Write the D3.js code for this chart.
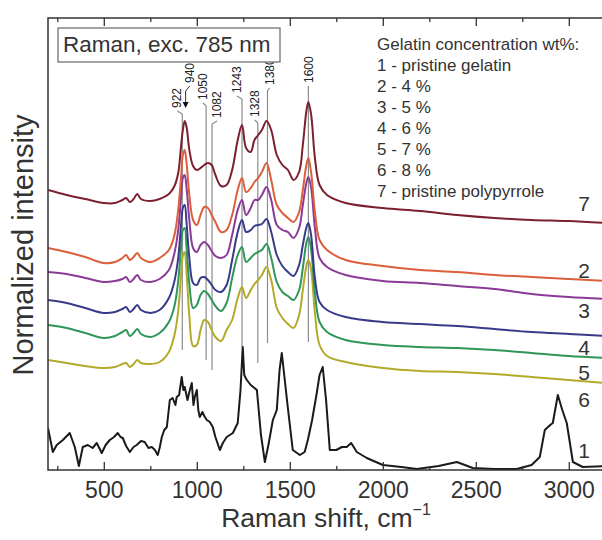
<!DOCTYPE html>
<html>
<head>
<meta charset="utf-8">
<script src="https://d3js.org/d3.v7.min.js"></script>
<style>
body{margin:0;background:#fff;}
svg{display:block;font-family:"Liberation Sans",Arial,sans-serif;}
</style>
</head>
<body>
<div id="chart"></div>
<script>
// Raman shift (cm-1) shared by the polypyrrole curves 2-7
var shiftPPy = [200,300,400,500,560,600,620,640,660,680,700,750,800,850,880,900,915,925,935,945,960,980,1000,1020,1040,1060,1080,1100,1130,1160,1190,1220,1243,1265,1290,1310,1330,1350,1375,1400,1430,1460,1490,1520,1550,1570,1590,1600,1615,1635,1660,1700,1800,2000,2200,2400,2600,2800,3000,3200];
// 7 - pristine polypyrrole
var int7 = [280,275,271,267,267,270,272,268,271,276,271,269,271,276,284,297,323,340,349,343,320,304,300,302,305,307,305,295,284,285,300,330,345,322,318,330,335,340,349,340,315,305,300,290,298,325,360,368,355,312,285,275,267,262,259,255,252,250,249,247];
// 2 - 4 %
var int2 = [222,218,213,207,208,212,215,210,213,217,212,208,212,220,235,260,292,315,320,307,275,250,245,255,263,262,255,248,238,240,255,280,292,278,282,288,292,298,307,290,265,257,252,248,258,280,306,312,297,258,230,220,210,204,200,198,195,193,191,189];
// 3 - 5 %
var int3 = [198,196,192,188,189,191,193,188,191,195,190,188,191,200,217,240,272,292,295,282,250,222,218,225,228,225,219,214,212,215,235,260,270,255,262,270,270,275,283,270,245,240,238,232,242,265,288,293,282,242,212,203,195,189,187,184,181,176,173,171];
// 4 - 6 %
var int4 = [170,167,162,157,158,161,163,158,161,165,160,157,160,172,189,212,244,262,265,247,212,187,185,192,193,190,185,180,178,185,210,238,250,238,240,244,245,246,251,238,215,204,198,194,205,225,243,247,234,192,168,160,153,148,146,144,141,138,136,134];
// 5 - 7 %
var int5 = [145,142,137,132,134,138,140,134,137,141,136,133,137,148,164,189,222,240,242,222,186,162,165,175,179,176,170,164,159,167,192,215,223,208,212,216,218,220,226,212,188,178,174,170,180,202,228,233,220,177,148,138,130,125,123,122,120,117,114,112];
// 6 - 8 %
var int6 = [110,107,104,102,103,106,107,103,106,110,107,106,108,118,135,159,194,214,218,197,154,124,125,140,150,148,140,133,129,140,150,172,183,172,180,186,190,195,203,190,162,152,146,142,155,180,205,210,200,157,125,114,108,102,99,98,96,93,90,87];
// 1 - pristine gelatin
var shiftGel = [200,226,247,280,317,344,366,387,414,440,462,489,510,532,555,575,590,602,620,640,660,677,700,720,740,758,775,790,800,812,825,839,855,870,885,892,905,919,928,935,950,960,973,982,989,1000,1008,1016,1030,1043,1054,1070,1086,1100,1124,1140,1161,1194,1220,1235,1247,1255,1269,1290,1323,1345,1366,1385,1409,1430,1445,1457,1470,1489,1516,1554,1580,1597,1620,1645,1660,1677,1695,1715,1750,1780,1806,1830,1860,1914,2000,2100,2183,2300,2398,2484,2600,2720,2800,2844,2871,2900,2914,2941,2965,2989,3022,3075,3200];
var int1 = [42,18,25,30,37,23,4,23,25,22,27,17,25,30,33,37,33,32,24,18,23,25,29,28,22,23,20,15,22,33,40,43,70,72,65,73,75,93,80,83,70,78,87,65,73,80,60,53,58,53,50,48,43,33,20,27,33,37,47,80,123,95,90,85,80,35,8,25,50,60,100,117,95,63,20,15,18,30,50,77,95,103,70,20,20,23,23,27,18,12,5,3,1,4,8,2,1,1,5,13,40,45,47,75,60,47,8,3,4];

// marked bands and where their guide lines stop (intensity)
var peakPos = [922,940,1050,1082,1243,1328,1380,1600];
var peakEnd = [120,362,110,100,123,107,127,128];

var legendTitle = "Gelatin concentration wt%:";
var legendItems = ["1 - pristine gelatin","2 - 4 %","3 - 5 %","4 - 6 %","5 - 7 %","6 - 8 %","7 - pristine polypyrrole"];
var xMajor = [500,1000,1500,2000,2500,3000];
var xMinor = [250,750,1250,1750,2250,2750];

// layout
var W = 602, H = 540;
var pLeft = 48, pTop = 18, pRight = 606, pBottom = 470;
var labelDx = [-5,4,-3,5,-5,-3,2,0];
var labelBottom = [108,83,100,118,93,117,85,83];

var svg = d3.select("#chart").append("svg").attr("width",W).attr("height",H);
var x = d3.scaleLinear().domain([200,3200]).range([pLeft,pRight]);
var y = d3.scaleLinear().domain([0,452]).range([pBottom,pTop]);

svg.append("clipPath").attr("id","plot").append("rect")
    .attr("x",pLeft).attr("y",pTop).attr("width",pRight-pLeft).attr("height",pBottom-pTop);

// guide lines for the bands
var guides = svg.append("g").attr("clip-path","url(#plot)");
peakPos.forEach(function(p,i){
    var px = x(p), lx = px + labelDx[i], b = labelBottom[i];
    if(p === 940){
        guides.append("path").attr("d","M"+lx+","+(b+3)+"L"+px+","+(b+8)+"L"+px+","+(y(peakEnd[i])-5))
            .attr("fill","none").attr("stroke","#333").attr("stroke-width",1);
        guides.append("path").attr("d","M"+(px-3)+","+(y(peakEnd[i])-6)+"L"+(px+3)+","+(y(peakEnd[i])-6)+"L"+px+","+y(peakEnd[i])+"Z")
            .attr("fill","#111");
    } else {
        guides.append("path").attr("d","M"+lx+","+(b+3)+"L"+px+","+(b+6)+"L"+px+","+y(peakEnd[i]))
            .attr("fill","none").attr("stroke","#8c8c8c").attr("stroke-width",1.2);
    }
    svg.append("text").attr("transform","translate("+lx+","+b+") rotate(-90)")
        .attr("dy","0.35em").attr("font-size",12).attr("fill","#222").text(p);
});

// spectra
var curves = [
    {s:shiftPPy, v:int6, color:"#b3aa2c"},
    {s:shiftPPy, v:int5, color:"#2e9658"},
    {s:shiftPPy, v:int4, color:"#383a8a"},
    {s:shiftPPy, v:int3, color:"#8b3a98"},
    {s:shiftPPy, v:int2, color:"#dc5f3c"},
    {s:shiftPPy, v:int7, color:"#7c1f2e"},
    {s:shiftGel, v:int1, color:"#1a1a1a", jagged:true}
];
var smooth = d3.line().x(function(d){return x(d[0]);}).y(function(d){return y(d[1]);}).curve(d3.curveCatmullRom.alpha(0.5));
var rough = d3.line().x(function(d){return x(d[0]);}).y(function(d){return y(d[1]);});
var plot = svg.append("g").attr("clip-path","url(#plot)");
curves.forEach(function(c){
    var pts = c.s.map(function(s,i){return [s,c.v[i]];});
    plot.append("path").attr("d",(c.jagged?rough:smooth)(pts))
        .attr("fill","none").attr("stroke",c.color).attr("stroke-width",2).attr("stroke-linejoin","round");
});

// axes: ticks point inward, labels only at bottom
function styleAxis(g){
    g.select(".domain").remove();
    g.selectAll(".tick line").attr("stroke","#333").attr("stroke-width",1.3);
    g.selectAll(".tick text").attr("fill","#333").attr("font-size",23).attr("font-family","Liberation Sans, Arial, sans-serif");
}
svg.append("g").attr("transform","translate(0,"+pBottom+")")
    .call(d3.axisBottom(x).tickValues(xMajor).tickSize(-8).tickPadding(12).tickFormat(d3.format("d"))).call(styleAxis);
svg.append("g").attr("transform","translate(0,"+pBottom+")")
    .call(d3.axisBottom(x).tickValues(xMinor).tickSize(-4).tickFormat("")).call(styleAxis);
svg.append("g").attr("transform","translate(0,"+pTop+")")
    .call(d3.axisTop(x).tickValues(xMajor).tickSize(-8).tickFormat("")).call(styleAxis);
svg.append("g").attr("transform","translate(0,"+pTop+")")
    .call(d3.axisTop(x).tickValues(xMinor).tickSize(-4).tickFormat("")).call(styleAxis);

svg.append("rect").attr("x",pLeft).attr("y",pTop).attr("width",pRight-pLeft).attr("height",pBottom-pTop)
    .attr("fill","none").attr("stroke","#333").attr("stroke-width",1.5);

// title box
svg.append("rect").attr("x",58).attr("y",28).attr("width",222).attr("height",34)
    .attr("fill","#fff").attr("stroke","#666").attr("stroke-width",1.2);
svg.append("text").attr("x",63).attr("y",52).attr("font-size",22.5).attr("fill","#333").text("Raman, exc. 785 nm");

// legend text
svg.append("text").attr("x",377).attr("y",50).attr("font-size",17).attr("fill","#333").text(legendTitle);
legendItems.forEach(function(t,i){
    svg.append("text").attr("x",377).attr("y",71+i*21).attr("font-size",17).attr("fill","#333").text(t);
});

// curve numbers at right
var curveNames = ["7","2","3","4","5","6","1"];
var nameY = [211,278,318,355,380,407,458];
curveNames.forEach(function(n,i){
    svg.append("text").attr("x",584).attr("y",nameY[i]).attr("text-anchor","middle")
        .attr("font-size",21).attr("fill","#333").text(n);
});

// axis titles
var xt = svg.append("text").attr("x",326).attr("y",527).attr("text-anchor","middle").attr("font-size",26.5).attr("fill","#333");
xt.append("tspan").text("Raman shift, cm");
xt.append("tspan").attr("dy",-12).attr("font-size",16).text("\u22121");
svg.append("text").attr("transform","translate(33,245) rotate(-90)").attr("text-anchor","middle")
    .attr("font-size",29).attr("fill","#333").text("Normalized intensity");
</script>
</body>
</html>
